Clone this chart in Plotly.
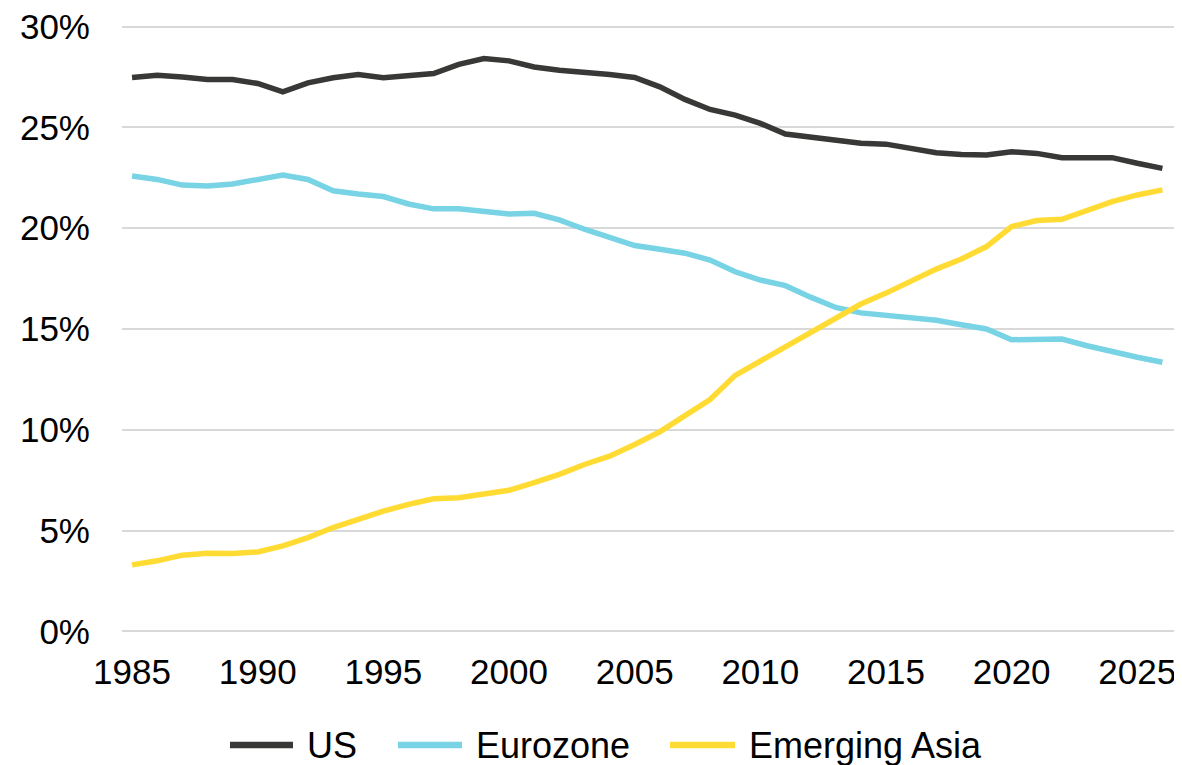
import plotly.graph_objects as go

years = list(range(1985, 2027))

us = [27.48, 27.59, 27.50, 27.38, 27.38, 27.18, 26.76, 27.21, 27.46, 27.62,
      27.46, 27.54, 27.67, 28.13, 28.42, 28.30, 28.00, 27.84, 27.75, 27.62,
      27.48, 27.01, 26.39, 25.89, 25.61, 25.20, 24.67, 24.53, 24.34, 24.21,
      24.17, 23.96, 23.74, 23.66, 23.63, 23.79, 23.71, 23.50, 23.50, 23.50,
      23.22, 22.97]

eurozone = [22.59, 22.42, 22.14, 22.09, 22.19, 22.39, 22.64, 22.42, 21.86, 21.70,
            21.57, 21.20, 20.96, 20.96, 20.82, 20.71, 20.74, 20.41, 19.95, 19.55,
            19.14, 18.96, 18.76, 18.42, 17.84, 17.43, 17.15, 16.58, 16.07, 15.80,
            15.69, 15.57, 15.43, 15.21, 15.00, 14.47, 14.47, 14.50, 14.17, 13.86,
            13.60, 13.35]

emerging_asia = [3.30, 3.50, 3.78, 3.88, 3.86, 3.94, 4.24, 4.65, 5.15, 5.56,
                 5.97, 6.30, 6.58, 6.63, 6.80, 7.00, 7.38, 7.79, 8.28, 8.69,
                 9.27, 9.90, 10.70, 11.50, 12.70, 13.41, 14.11, 14.85, 15.60, 16.24,
                 16.78, 17.41, 17.97, 18.47, 19.09, 20.08, 20.38, 20.44, 20.87, 21.32,
                 21.65, 21.90]

series_names = ["US", "Eurozone", "Emerging Asia"]
series_colors = ["#383936", "#78d3e5", "#ffdb33"]
series_values = [us, eurozone, emerging_asia]

y_ticks = [0, 5, 10, 15, 20, 25, 30]
y_tick_labels = ["0%", "5%", "10%", "15%", "20%", "25%", "30%"]
x_ticks = [1985, 1990, 1995, 2000, 2005, 2010, 2015, 2020, 2025]

FONT = "Liberation Sans, Arial, sans-serif"

# the page body has an 8px margin, so the figure is drawn offset by 8px
OFF = 8
W, H = 1182 - OFF, 765 - OFF
ML, MR, MT, MB = 122 - OFF, 7, 25 - OFF, 132
PW = W - ML - MR
PH = H - MT - MB

fig = go.Figure()
for name, color, vals in zip(series_names, series_colors, series_values):
    fig.add_trace(go.Scatter(
        x=years, y=vals, name=name, mode="lines",
        line=dict(color=color, width=5.5),
        showlegend=False,
    ))

# custom legend (page pixel positions converted to paper coords)
legend_items = [  # (line x0, line x1, text x) in page px
    (230, 293, 305),
    (398, 462, 474),
    (670, 735, 747),
]
legend_y_px = 745
ly = (H - MB - (legend_y_px - OFF)) / PH
for (x0, x1, tx), name, color in zip(legend_items, series_names, series_colors):
    fig.add_shape(type="line", xref="paper", yref="paper",
                  x0=(x0 - OFF - ML) / PW, x1=(x1 - OFF - ML) / PW, y0=ly, y1=ly,
                  line=dict(color=color, width=6.5))
    fig.add_annotation(xref="paper", yref="paper", x=(tx - OFF - ML) / PW, y=ly,
                       xanchor="left", yanchor="middle", showarrow=False,
                       text=name, font=dict(family=FONT, size=36, color="black"))

fig.update_layout(
    width=W, height=H,
    margin=dict(l=ML, r=MR, t=MT, b=MB),
    paper_bgcolor="white", plot_bgcolor="white",
    font=dict(family=FONT, color="black", size=35),
    showlegend=False,
    xaxis=dict(
        range=[1984.6, 2026.5], tickvals=x_ticks, ticktext=[str(v) for v in x_ticks],
        showgrid=False, zeroline=False, showline=False, ticks="",
        tickfont=dict(family=FONT, size=35, color="black"),
        ticklabelstandoff=15, automargin=False, ticklabeloverflow="allow",
    ),
    yaxis=dict(
        range=[-0.08, 30.08], tickvals=y_ticks, ticktext=y_tick_labels,
        showgrid=True, gridcolor="#d9d9d9", gridwidth=2,
        zeroline=False, showline=False, ticks="",
        tickfont=dict(family=FONT, size=35, color="black"),
        ticklabelstandoff=31, automargin=False, ticklabeloverflow="allow",
    ),
)

fig.write_html("out.html")
